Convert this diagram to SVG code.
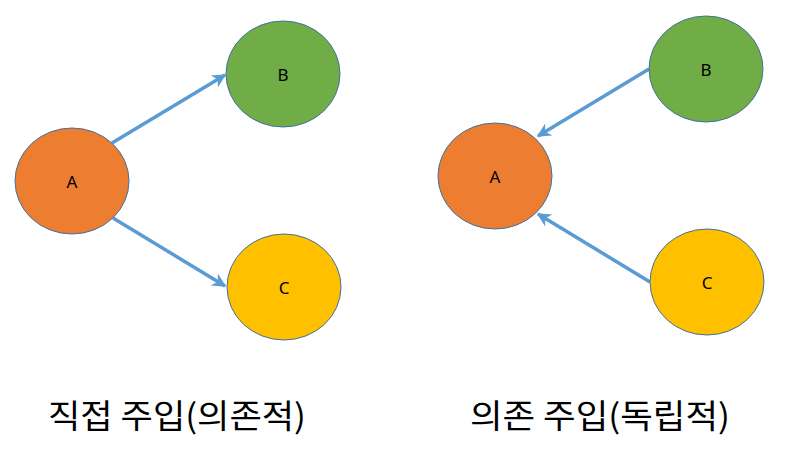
<svg xmlns="http://www.w3.org/2000/svg" width="786" height="453" viewBox="0 0 786 453">
<style>
.n{stroke:#41719C;stroke-width:1}
.a{fill:#ED7D31}.b{fill:#70AD47}.c{fill:#FFC000}
.l{font-family:"Noto Sans","Liberation Sans","Noto Sans CJK KR",sans-serif;font-size:17px;fill:#000;text-anchor:middle;dominant-baseline:central}
.t{font-family:"Noto Sans CJK KR","Noto Sans",sans-serif;font-size:33px;fill:#000;text-anchor:middle}
.e{stroke:#5B9BD5;stroke-width:3.5;fill:none;marker-end:url(#ah)}
</style>
<defs>
<marker id="ah" viewBox="0 0 10 10" refX="9" refY="5" markerWidth="4" markerHeight="4" markerUnits="strokeWidth" orient="auto">
<path d="M0,0 L10,5 L0,10 L3,5 Z" fill="#5B9BD5"/>
</marker>
</defs>
<g id="edges">
<line class="e" x1="112" y1="143" x2="225" y2="75"/>
<line class="e" x1="113" y1="218" x2="225" y2="286"/>
<line class="e" x1="649" y1="69" x2="538" y2="136"/>
<line class="e" x1="650" y1="282" x2="538" y2="214"/>
</g>
<g id="L_A"><ellipse class="n a" cx="72" cy="181" rx="57" ry="53"/><text class="l" x="72" y="181">A</text></g>
<g id="L_B"><ellipse class="n b" cx="283" cy="74" rx="57" ry="53"/><text class="l" x="283" y="74">B</text></g>
<g id="L_C"><ellipse class="n c" cx="284" cy="287" rx="57" ry="53"/><text class="l" x="284" y="287">C</text></g>
<g id="R_A"><ellipse class="n a" cx="495" cy="176" rx="57" ry="53"/><text class="l" x="495" y="176">A</text></g>
<g id="R_B"><ellipse class="n b" cx="706" cy="69" rx="57" ry="53"/><text class="l" x="706" y="69">B</text></g>
<g id="R_C"><ellipse class="n c" cx="707" cy="282" rx="57" ry="53"/><text class="l" x="707" y="282">C</text></g>
<g id="titles">
<text class="t" x="177" y="428" textLength="258" lengthAdjust="spacingAndGlyphs">직접 주입(의존적)</text>
<text class="t" x="600" y="428" textLength="260" lengthAdjust="spacingAndGlyphs">의존 주입(독립적)</text>
</g>
</svg>
